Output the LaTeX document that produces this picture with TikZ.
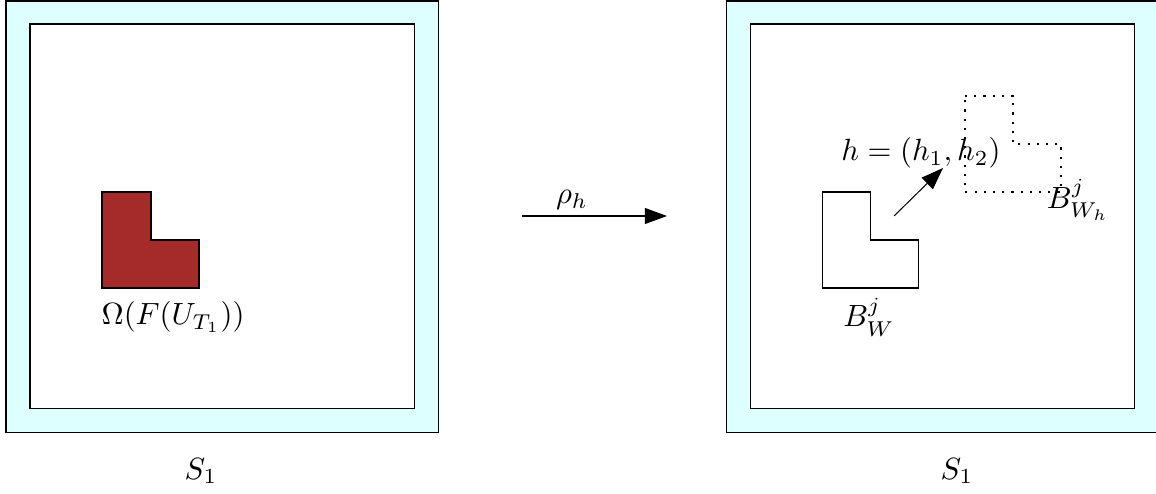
\documentclass[tikz,border=0pt]{standalone}
\usetikzlibrary{arrows.meta}
\definecolor{lightcyanfill}{RGB}{221,255,255}
\definecolor{brickred}{RGB}{165,42,42}
\tikzset{
  frameline/.style={draw=black,line width=0.33pt},
  outerframe/.style={frameline,fill=lightcyanfill},
  innerframe/.style={frameline,fill=white},
  lshape/.style={draw=black,line width=0.33pt},
  dotshape/.style={draw=black,line width=0.4pt,dash pattern=on 0.7pt off 2.3pt},
  bigarrow/.style={draw=black,line width=0.33pt,-{Triangle[length=7.2pt,width=5.2pt]}},
  lbl/.style={inner sep=0pt}
}
\begin{document}
\begin{tikzpicture}[x=0.3257pt,y=-0.3257pt]
\useasboundingbox (0,0) rectangle (1156,493);
% left panel
\draw[outerframe] (6,1) rectangle (438,432);
\draw[innerframe] (30,24) rectangle (414,408);
\draw[lshape,fill=brickred] (102,192) -- (151,192) -- (151,240) -- (199,240) -- (199,288) -- (102,288) -- cycle;
\node[lbl,anchor=west] (omega) at (101,317) {$\Omega(F(U_{T_1}))$};
\node[lbl] (s1left) at (201,471) {$S_1$};
% middle arrow
\coordinate (rhoA) at (522,216);
\coordinate (rhoB) at (667,216);
\draw[bigarrow] (rhoA) -- (rhoB);
\node[lbl] (rho) at (572,200) {$\rho_h$};
% right panel
\draw[outerframe] (726,1) rectangle (1160,432);
\draw[innerframe] (750,24) rectangle (1134,408);
\draw[lshape,fill=white] (822,192) -- (870,192) -- (870,240) -- (918,240) -- (918,288) -- (822,288) -- cycle;
\draw[dotshape] (965,96) -- (1013,96) -- (1013,144) -- (1061,144) -- (1061,192) -- (965,192) -- cycle;
\coordinate (hA) at (894,216);
\coordinate (hB) at (943,168);
\draw[bigarrow] (hA) -- (hB);
\node[lbl] (hlabel) at (921,153) {$h=(h_1,h_2)$};
\node[lbl] (bwh) at (1078,200) {$B^j_{W_h}$};
\node[lbl] (bw) at (869,317) {$B^j_W$};
\node[lbl] (s1right) at (957,471) {$S_1$};
\end{tikzpicture}
\end{document}
